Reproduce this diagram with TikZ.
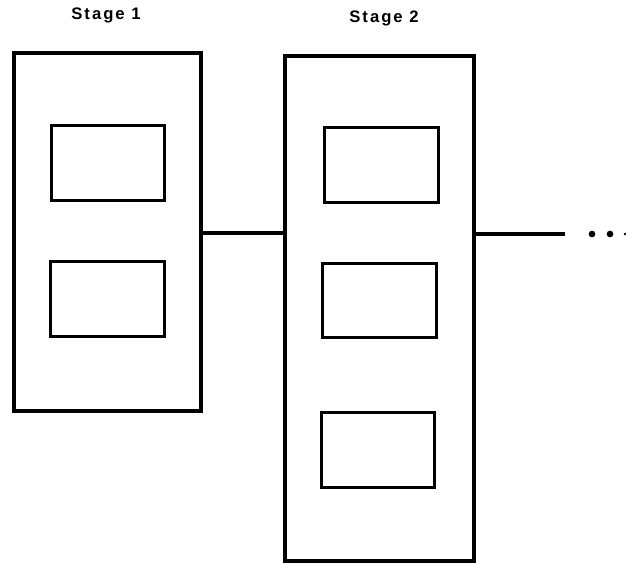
\documentclass[tikz,border=0pt]{standalone}
\usepackage{fontspec}
\setmainfont{Liberation Sans}
\begin{document}
\begin{tikzpicture}[x=0.75pt,y=-0.75pt,
  stagebox/.style={draw,line width=2.6pt,rectangle,inner sep=0pt},
  unitbox/.style={draw,line width=2.4pt,rectangle,inner sep=0pt,
    minimum width=85pt,minimum height=56pt},
  conn/.style={line width=2.4pt},
  title/.style={font=\bfseries\fontsize{12.5}{14}\selectfont\addfontfeature{LetterSpace=12}},
  dot/.style={fill,circle,inner sep=0pt,minimum size=5pt}]
\useasboundingbox (0,0) rectangle (626,565);

% stage titles
\node[title] (t1) at (106,15) {Stage 1};
\node[title] (t2) at (384,18) {Stage 2};

% stage containers
\node[stagebox,minimum width=140pt,minimum height=268.5pt] (s1) at (107.5,232) {};
\node[stagebox,minimum width=141.7pt,minimum height=378.5pt] (s2) at (379.5,308.5) {};

% units inside stage 1
\node[unitbox] (a1) at (108,163) {};
\node[unitbox] (a2) at (107.5,299) {};

% units inside stage 2
\node[unitbox] (b1) at (381.5,165) {};
\node[unitbox] (b2) at (379.5,300.5) {};
\node[unitbox] (b3) at (378,450) {};

% links between stages
\draw[conn] (s1.east |- 0,233) -- (s2.west |- 0,233);
\coordinate (tail) at (565,234);
\draw[conn] (s2.east |- tail) -- (tail);

% continuation dots
\node[dot] (d1) at (592,234) {};
\node[dot] (d2) at (610,234) {};
\node[dot,minimum size=2pt] (d3) at (625,234) {};
\end{tikzpicture}
\end{document}
